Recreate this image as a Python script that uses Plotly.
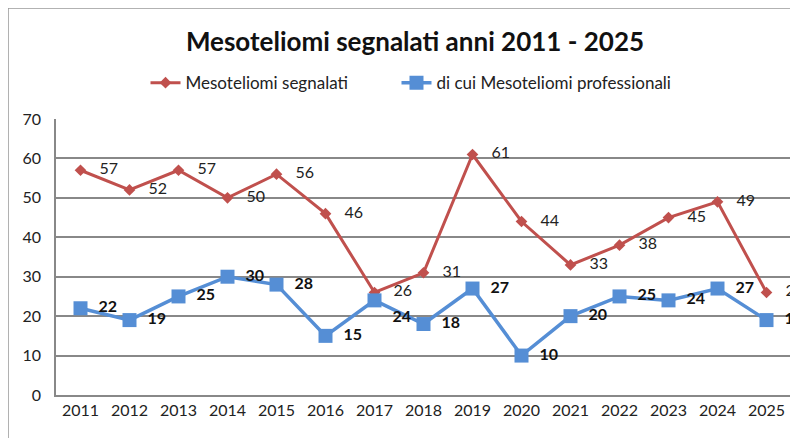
import plotly.graph_objects as go

anni = ["2011", "2012", "2013", "2014", "2015", "2016", "2017", "2018",
        "2019", "2020", "2021", "2022", "2023", "2024", "2025"]
segnalati = [57, 52, 57, 50, 56, 46, 26, 31, 61, 44, 33, 38, 45, 49, 26]
professionali = [22, 19, 25, 30, 28, 15, 24, 18, 27, 10, 20, 25, 24, 27, 19]

rosso = "#C0504D"
blu = "#558ED5"
font = "Lato"

pos_blu = ["middle right"] * len(anni)
pos_blu[6] = "bottom right"

fig = go.Figure()
fig.add_trace(go.Scatter(
    x=anni, y=segnalati, name="Mesoteliomi segnalati" + "&nbsp;" * 10,
    mode="lines+markers+text",
    line=dict(color=rosso, width=3),
    marker=dict(symbol="diamond", size=9, color=rosso),
    text=["   " + str(v) for v in segnalati], textposition="middle right",
    textfont=dict(family=font, size=16, color="#222"),
    cliponaxis=False,
))
fig.add_trace(go.Scatter(
    x=anni, y=professionali, name="di cui Mesoteliomi professionali",
    mode="lines+markers+text",
    line=dict(color=blu, width=3.5),
    marker=dict(symbol="square", size=14, color=blu),
    text=["  <b>" + str(v) + "</b>" for v in professionali], textposition=pos_blu,
    textfont=dict(family=font, size=16, color="#111"),
    cliponaxis=False,
))

# the page body adds an 8px offset, so margins are shifted to compensate
fig.update_layout(
    width=798, height=438,
    margin=dict(l=48, r=15, t=111, b=51),
    paper_bgcolor="white", plot_bgcolor="white",
    font=dict(family=font, size=16, color="#222"),
    title=dict(text="<b>Mesoteliomi segnalati anni 2011 - 2025</b>",
               x=0.51, xanchor="center", y=0.922, yanchor="middle",
               font=dict(family=font, size=26, color="#111")),
    legend=dict(orientation="h", x=0.483, xanchor="center",
                y=1.13, yanchor="middle", font=dict(family=font, size=17),
                traceorder="normal"),
    showlegend=True,
    xaxis=dict(type="category", showgrid=False, showline=True,
               linecolor="#888", linewidth=1.5, ticks="",
               tickfont=dict(size=16), range=[-0.5, 14.5], automargin=False),
    yaxis=dict(range=[0, 70], dtick=10, showgrid=True, gridcolor="#888",
               gridwidth=1.5, showline=True, linecolor="#888", linewidth=1.5,
               zeroline=False, ticks="outside", ticklen=10, tickcolor="white",
               tickfont=dict(size=16), automargin=False),
    shapes=[dict(type="rect", xref="paper", yref="paper",
                 x0=-0.0653, x1=1.2, y0=-0.5, y1=1.402,
                 line=dict(color="#999", width=1.5), layer="below")],
)

fig.write_html("out.html")
